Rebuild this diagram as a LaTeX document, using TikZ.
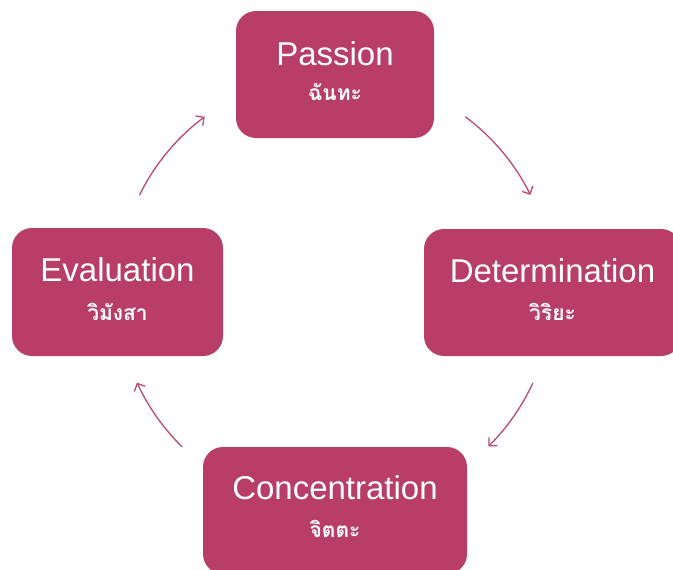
\documentclass[tikz,border=0pt]{standalone}
\usepackage{fontspec}
\setmainfont{Liberation Sans}
\newfontfamily\thaifont[Script=Thai]{Loma}
\usetikzlibrary{arrows.meta}
\definecolor{boxfill}{RGB}{184,61,103}
\definecolor{arrowc}{RGB}{192,72,112}
\begin{document}
\begin{tikzpicture}[x=1pt,y=1pt,
  card/.style={fill=boxfill, rounded corners=20pt, inner sep=0pt},
  title/.style={text=white, font=\fontsize{33}{36}\selectfont, anchor=base, inner sep=0pt},
  sub/.style={text=white, font=\thaifont\bfseries\fontsize{21}{23}\selectfont, anchor=base, inner sep=0pt},
  flow/.style={arrowc, line width=1.3pt, -{Straight Barb[length=6pt,width=12pt]}}]
\useasboundingbox (0,0) rectangle (673,-570);
\clip (0,0) rectangle (673,-570);
% boxes
\node[card, minimum width=198pt, minimum height=127pt] (passion) at (335,-74.5) {};
\node[card, minimum width=257pt, minimum height=127pt] (determination) at (552.5,-292.5) {};
\node[card, minimum width=211pt, minimum height=128pt] (evaluation) at (117.5,-292) {};
\node[card, minimum width=264pt, minimum height=127pt] (concentration) at (335,-510.5) {};
% texts
\node[title] (t1) at (335,-65) {Passion};
\node[sub] (s1) at (335,-100) {ฉันทะ};
\node[title] (t2) at (552.5,-282) {Determination};
\node[sub] (s2) at (552.5,-320) {วิริยะ};
\node[title] (t3) at (117.5,-281) {Evaluation};
\node[sub] (s3) at (117.5,-320) {วิมังสา};
\node[title] (t4) at (335,-499) {Concentration};
\node[sub] (s4) at (335,-537) {จิตตะ};
% cycle arrows
\coordinate (hub) at (335,-291.5);
\draw[flow] ([shift={(153.7:218pt)}]hub) arc[start angle=153.7, end angle=126.7, radius=218pt];
\draw[flow] ([shift={(53.3:218pt)}]hub) arc[start angle=53.3, end angle=26.3, radius=218pt];
\draw[flow] ([shift={(-24.8:218pt)}]hub) arc[start angle=-24.8, end angle=-45.3, radius=218pt];
\draw[flow] ([shift={(225.5:218pt)}]hub) arc[start angle=225.5, end angle=204.7, radius=218pt];
\end{tikzpicture}
\end{document}
